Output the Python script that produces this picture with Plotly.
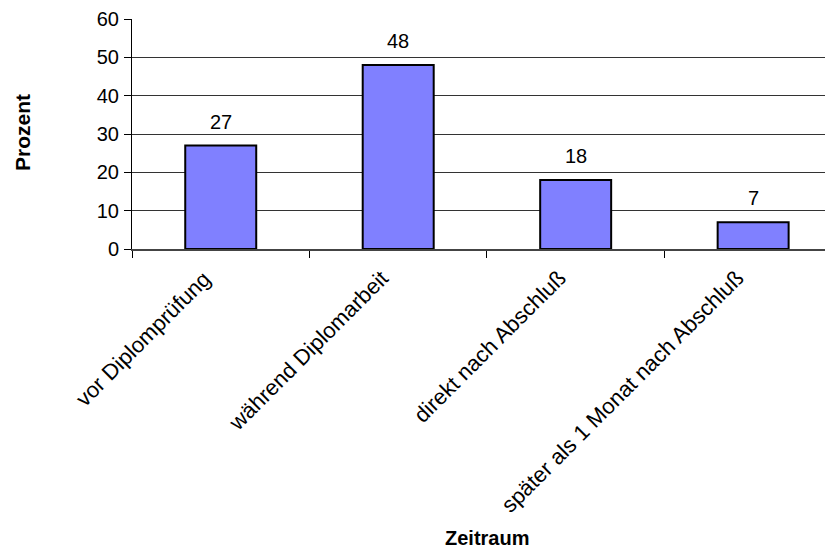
import plotly.graph_objects as go

categories = ["vor Diplomprüfung", "während Diplomarbeit", "direkt nach Abschluß",
              "später als 1 Monat nach Abschluß"]
values = [27, 48, 18, 7]
y_ticks = [0, 10, 20, 30, 40, 50, 60]

FONT = "Liberation Sans, Arial, sans-serif"

fig = go.Figure()
fig.add_trace(go.Bar(
    x=categories, y=values, width=0.4,
    marker=dict(color="#8080FF", line=dict(color="black", width=2)),
    showlegend=False, hoverinfo="x+y",
))

for c, v in zip(categories, values):
    fig.add_annotation(x=c, y=v, text=str(v), showarrow=False, yshift=24,
                       font=dict(family=FONT, size=20, color="black"))

# category labels (rotated), anchored at their top-right corner below each category
for c in categories:
    fig.add_annotation(x=c, y=0, text=c, showarrow=False, textangle=-45,
                       xanchor="right", yanchor="top", xshift=-2, yshift=-14,
                       font=dict(family=FONT, size=22, color="black"))

fig.add_annotation(xref="paper", yref="paper", x=0.5064, y=-1.257, text="<b>Zeitraum</b>",
                   xanchor="center", yanchor="middle",
                   showarrow=False, font=dict(family=FONT, size=20, color="black"))
fig.add_annotation(xref="paper", yref="paper", x=-0.1555, y=0.5087, text="<b>Prozent</b>",
                   xanchor="center", yanchor="middle",
                   textangle=-90, showarrow=False, font=dict(family=FONT, size=21, color="black"))

fig.update_layout(
    width=825, height=544,
    margin=dict(l=124, r=0, t=11, b=303),
    paper_bgcolor="white", plot_bgcolor="white",
    font=dict(family=FONT, size=19, color="black"),
)
fig.update_xaxes(
    type="category", range=[-0.5, 3.45], automargin=False, showticklabels=False,
    tickson="boundaries", ticks="outside", ticklen=7, tickcolor="black", tickwidth=1,
    showline=True, linecolor="#444", linewidth=2, showgrid=False, zeroline=False,
)
fig.update_yaxes(
    range=[0, 60], tickvals=y_ticks, ticks="outside", ticklen=7, tickcolor="black",
    automargin=False,
    tickfont=dict(family=FONT, size=20, color="black"), ticklabelstandoff=1,
    showline=True, linecolor="black", linewidth=1,
    showgrid=True, gridcolor="#333", gridwidth=1, zeroline=False,
)

fig.write_html("out.html")
